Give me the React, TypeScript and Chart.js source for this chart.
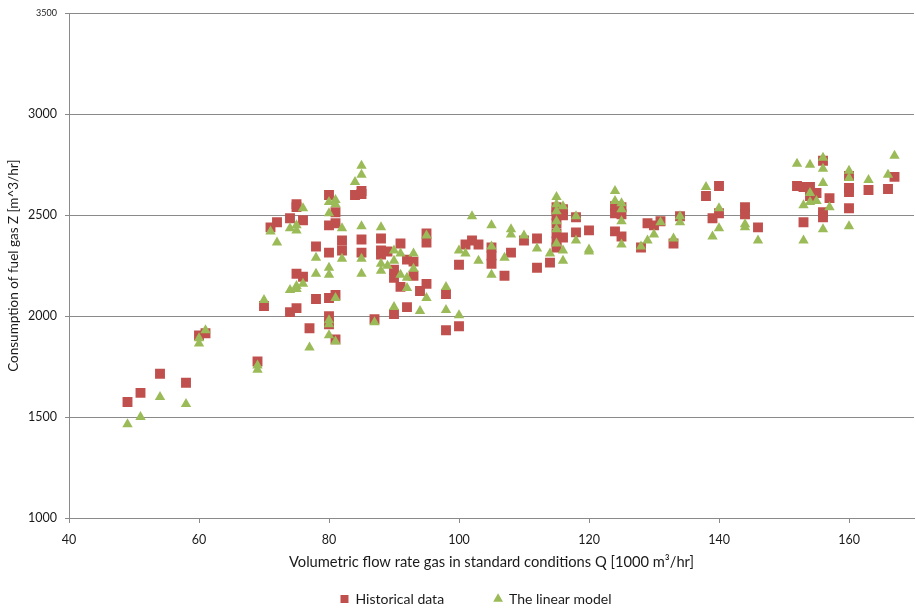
import React, { useEffect, useRef } from "react";
import { Chart, registerables } from "chart.js";

Chart.register(...registerables);

// Historical data: Q [1000 m3/hr] and Z [m^3/hr]
const histQ = [
  49, 51, 54, 58, 60, 61, 69, 70, 71, 72, 74, 75, 75, 76, 80, 81, 80, 81, 84, 85,
  85, 78, 80, 82, 82, 85, 85, 88, 88, 89, 75, 76, 78, 80, 81, 74, 75, 80, 80, 77,
  81, 87, 88, 91, 90, 90, 91, 93, 93, 92, 95, 95, 95, 94, 92, 90, 98, 98, 100, 100,
  101, 102, 103, 105, 105, 105, 107, 108, 110, 112, 112, 114, 115, 115, 115, 115, 115, 115, 115, 116,
  116, 116, 118, 118, 120, 124, 124, 124, 125, 125, 125, 128, 129, 130, 131, 133, 134, 138, 140, 140,
  139, 144, 144, 146, 152, 153, 154, 154, 155, 153, 156, 156, 156, 157, 160, 160, 160, 160, 163, 166,
  167,
];
const histZ = [
  1575, 1620, 1715, 1670, 1905, 1915, 1775, 2050, 2440, 2465, 2485, 2555, 2540, 2475, 2600, 2515, 2450, 2460, 2600, 2620,
  2605, 2345, 2315, 2375, 2325, 2380, 2315, 2385, 2325, 2320, 2210, 2195, 2085, 2090, 2105, 2020, 2040, 2000, 1960, 1940,
  1885, 1985, 2305, 2360, 2230, 2190, 2145, 2270, 2200, 2280, 2410, 2365, 2160, 2125, 2045, 2010, 2110, 1930, 2255, 1950,
  2355, 2375, 2355, 2340, 2300, 2260, 2200, 2315, 2375, 2385, 2240, 2265, 2540, 2520, 2500, 2460, 2410, 2370, 2340, 2530,
  2500, 2390, 2490, 2415, 2425, 2545, 2420, 2510, 2540, 2505, 2395, 2340, 2460, 2450, 2470, 2360, 2495, 2595, 2645, 2510,
  2485, 2540, 2505, 2440, 2645, 2640, 2640, 2595, 2610, 2465, 2770, 2515, 2490, 2585, 2695, 2635, 2615, 2535, 2625, 2630,
  2690,
];

// The linear model: Q [1000 m3/hr] and Z [m^3/hr]
const modelQ = [
  49, 51, 54, 58, 60, 60, 61, 69, 69, 70,
  85, 85, 84, 76, 80, 81, 81, 80, 71, 72, 74, 75, 75, 82, 85, 88, 78, 82, 85, 80,
  80, 78, 85, 88, 88, 89, 74, 75, 76, 75, 81, 80, 80, 80, 81, 77, 87,
  90, 91, 93, 90, 91, 92, 93, 92, 95, 95, 94, 90, 98, 98, 100, 100, 101, 102, 103,
  105, 105, 105, 107, 108, 108, 110,
  112, 114, 115, 115, 115, 115, 115, 115, 116, 116, 116, 118, 118, 120, 120, 124, 124, 125, 125, 125,
  125, 128, 129, 130, 131, 133, 134, 134,
  138, 140, 140, 139, 144, 144, 146, 152, 153, 153, 154, 154, 154, 155, 156, 156, 156, 156, 157, 160,
  160, 160, 163, 166, 167,
];
const modelZ = [
  1465, 1500, 1600, 1565, 1890, 1865, 1930, 1755, 1735, 2080,
  2745, 2700, 2665, 2535, 2565, 2575, 2555, 2510, 2420, 2365, 2435, 2450, 2425, 2435, 2445, 2440, 2290, 2285, 2285, 2240,
  2205, 2210, 2210, 2260, 2225, 2250, 2130, 2150, 2160, 2135, 2090, 1980, 1960, 1905, 1875, 1845, 1970,
  2325, 2310, 2310, 2275, 2205, 2190, 2235, 2140, 2400, 2090, 2025, 2045, 2145, 2030, 2005, 2325, 2310, 2495, 2275,
  2450, 2345, 2205, 2290, 2430, 2405, 2400,
  2335, 2310, 2590, 2555, 2520, 2470, 2430, 2360, 2545, 2325, 2275, 2495, 2375, 2330, 2320, 2620, 2570, 2560, 2530, 2470,
  2355, 2345, 2375, 2405, 2465, 2385, 2495, 2465,
  2640, 2535, 2435, 2395, 2455, 2440, 2375, 2755, 2550, 2375, 2750, 2610, 2565, 2570, 2785, 2730, 2660, 2430, 2540, 2720,
  2685, 2445, 2675, 2700, 2795,
];

const xTicks = [40, 60, 80, 100, 120, 140, 160];
const yTicks = [1000, 1500, 2000, 2500, 3000, 3500];
const seriesNames = ["Historical data", "The linear model"];
const xTitle = "Volumetric flow rate gas in standard conditions Q [1000 m\u00B3/hr]";
const yTitle = "Consumption of fuel gas Z [m^3/hr]";

const FONT = "Lato, 'Open Sans', sans-serif";
const TEXT = "#1a1a1a";
const GRID = "#8a8a8a";

const legendPlace = {
  id: "legendPlace",
  afterLayout(chart: any) {
    const lg = chart.legend;
    if (!lg) return;
    const pad = lg.options.labels.padding;
    const h = lg.bottom - lg.top;
    lg.top = 599 - pad - 7;
    lg.bottom = lg.top + h;
    const w = lg.right - lg.left;
    lg.left = 476 - w / 2;
    lg.right = lg.left + w;
  },
};

export default function App() {
  const ref = useRef<HTMLCanvasElement>(null);

  useEffect(() => {
    let chart: Chart | null = null;
    let cancelled = false;
    const make = () => {
      if (cancelled || !ref.current) return;
      chart = new Chart(ref.current, {
        type: "scatter",
        data: {
          datasets: [
            {
              label: seriesNames[0],
              data: histQ.map((q, i) => ({ x: q, y: histZ[i] })),
              backgroundColor: "#C0504D",
              borderColor: "#C0504D",
              borderWidth: 0,
              pointStyle: "rect",
              pointRadius: 7,
              order: 1,
            },
            {
              label: seriesNames[1],
              data: modelQ.map((q, i) => ({ x: q, y: modelZ[i] })),
              backgroundColor: "#9BBB59",
              borderColor: "#9BBB59",
              borderWidth: 0,
              pointStyle: "triangle",
              pointRadius: 6,
              order: 0,
            },
          ],
        },
        options: {
          responsive: false,
          animation: false,
          events: [],
          layout: { padding: { top: 12, left: 0, right: 0, bottom: 0 } },
          plugins: {
            legend: {
              position: "bottom",
              labels: {
                usePointStyle: true,
                boxWidth: 8,
                boxHeight: 8,
                padding: 50,
                color: TEXT,
                font: { family: FONT, size: 14 },
                sort: (a: any, b: any) => a.datasetIndex - b.datasetIndex,
              },
            },
            tooltip: { enabled: false },
          },
          scales: {
            x: {
              type: "linear",
              min: 40,
              max: 170,
              afterBuildTicks: (s: any) => {
                s.ticks = xTicks.map((v) => ({ value: v }));
              },
              afterFit: (s: any) => {
                s.height = 57;
              },
              grid: { drawOnChartArea: false, drawTicks: true, tickLength: 5, color: GRID },
              border: { color: GRID, width: 1 },
              ticks: {
                padding: 9,
                color: TEXT,
                font: { family: FONT, size: 12.5 },
                maxRotation: 0,
                autoSkip: false,
                callback: (v: any) => String(v),
              },
              title: {
                display: true,
                text: xTitle,
                color: TEXT,
                font: { family: FONT, size: 14.7 },
                padding: { top: 0, bottom: 4 },
              },
            },
            y: {
              type: "linear",
              min: 1000,
              max: 3500,
              afterBuildTicks: (s: any) => {
                s.ticks = yTicks.map((v) => ({ value: v }));
              },
              afterFit: (s: any) => {
                s.width = 69;
              },
              grid: { color: GRID, tickLength: 4 },
              border: { color: GRID, width: 1 },
              ticks: {
                padding: 8,
                color: TEXT,
                callback: (v: any) => String(v),
                font: (ctx: any) => ({
                  family: FONT,
                  size: ctx.tick && ctx.tick.value === 3500 ? 9 : 12.5,
                }),
              },
              title: {
                display: true,
                text: yTitle,
                color: TEXT,
                font: { family: FONT, size: 13.5 },
                padding: { top: 6, bottom: 0 },
              },
            },
          },
        },
        plugins: [legendPlace],
      } as any);
    };
    if ((document as any).fonts && (document as any).fonts.load) {
      Promise.all([
        (document as any).fonts.load("14px Lato"),
        (document as any).fonts.load("12px Lato"),
      ]).then(make, make);
    } else {
      make();
    }
    return () => {
      cancelled = true;
      if (chart) chart.destroy();
    };
  }, []);

  return (
    <div
      style={{
        position: "fixed",
        left: 0,
        top: 0,
        width: 916,
        height: 609,
        overflow: "hidden",
        background: "#fff",
      }}
    >
      <canvas
        ref={ref}
        width={921}
        height={649}
        style={{ display: "block", width: 921, height: 649 }}
      />
    </div>
  );
}
